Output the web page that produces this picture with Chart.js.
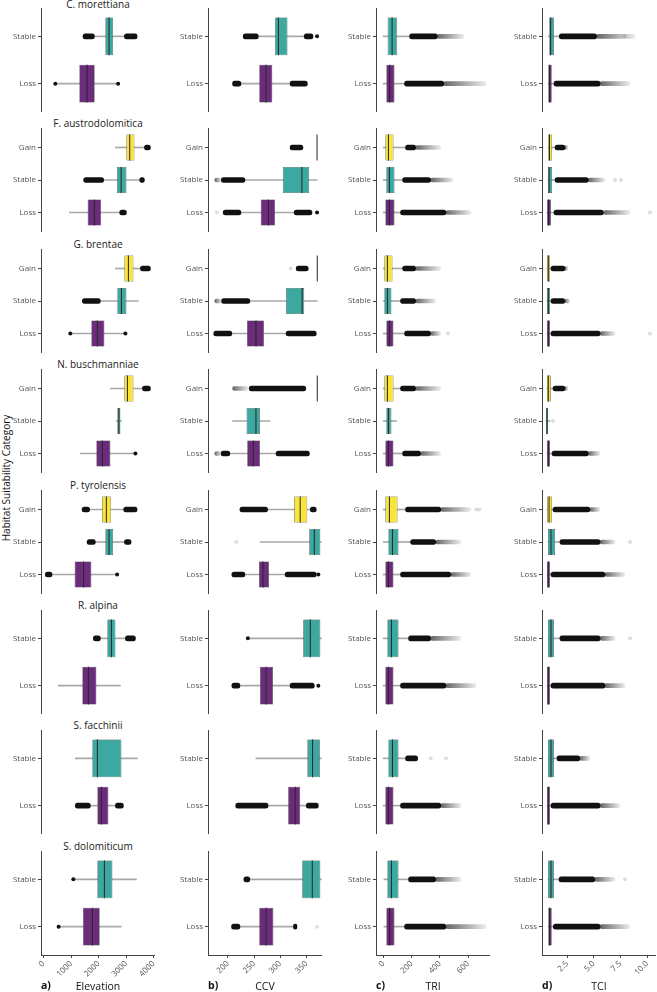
<!DOCTYPE html>
<html>
<head>
<meta charset="utf-8">
<script src="https://cdn.jsdelivr.net/npm/chart.js@4.4.0/dist/chart.umd.min.js"></script>
<style>
  body { margin: 0; background: #fff; font-family: 'Open Sans', sans-serif; }
  #page { position: relative; width: 657px; height: 992px; overflow: hidden; }
  .cell { position: absolute; }
  .title { position: absolute; font-size: 10px; line-height: 9px; color: #1a1a1a; text-align: center; white-space: nowrap; }
  .xlab { position: absolute; font-size: 10.5px; line-height: 12px; color: #111; text-align: center; }
  .letter { position: absolute; font-size: 10.5px; line-height: 12px; font-weight: bold; color: #111; }
  #ytitle { position: absolute; left: -94px; top: 473px; width: 200px; text-align: center; font-size: 10px; line-height: 10px; color: #111; transform: rotate(-90deg); }
</style>
</head>
<body>
<div id="page"><div id="ytitle">Habitat Suitability Category</div></div>
<script>
const species = ['C. morettiana', 'F. austrodolomitica', 'G. brentae', 'N. buschmanniae',
                 'P. tyrolensis', 'R. alpina', 'S. facchinii', 'S. dolomiticum'];
const twoCats = ['Stable', 'Loss'];
const threeCats = ['Gain', 'Stable', 'Loss'];
const speciesCats = [twoCats, threeCats, threeCats, threeCats, threeCats, twoCats, twoCats, twoCats];
const catColors = { Gain: '#f8e43b', Stable: '#3ca89f', Loss: '#6b2d7b' };

// box stats per species, per category: [lower whisker, q1, median, q3, upper whisker]
const elevationBoxes = [
  [[1848, 2248, 2382, 2528, 2939], [503, 1303, 1583, 1859, 2648]],
  [[2612, 3012, 3132, 3302, 3666], [2186, 2673, 2819, 3012, 3495], [939, 1604, 1848, 2092, 2768]],
  [[2612, 2939, 3084, 3266, 3521], [2066, 2684, 2830, 3012, 3448], [1048, 1739, 1957, 2212, 2939]],
  [[2430, 2939, 3048, 3266, 3594], [2648, 2684, 2739, 2793, 2830], [1339, 1921, 2139, 2430, 3303]],
  [[1677, 2128, 2284, 2455, 2913], [1884, 2248, 2382, 2528, 2939], [310, 1132, 1459, 1739, 2612]],
  [[2066, 2321, 2466, 2612, 2975], [539, 1412, 1630, 1921, 2793]],
  [[1157, 1775, 1957, 2830, 3412], [1702, 1957, 2102, 2357, 2612]],
  [[1157, 1957, 2212, 2503, 3375], [586, 1437, 1775, 2041, 2819]]
];
// dense outlier runs: [species, category, from, to]
const elevationBands = [
  [0, 'Stable', 1437, 1848], [0, 'Stable', 2939, 3400],
  [1, 'Gain', 3666, 3884], [1, 'Stable', 1459, 2186], [1, 'Stable', 3495, 3666], [1, 'Loss', 2768, 3012],
  [2, 'Gain', 3521, 3884], [2, 'Stable', 1412, 2066],
  [3, 'Gain', 3594, 3884],
  [4, 'Gain', 1401, 1677], [4, 'Gain', 2913, 3400], [4, 'Stable', 1583, 1884], [4, 'Stable', 2939, 3182], [4, 'Loss', 66, 310],
  [5, 'Stable', 1812, 2066], [5, 'Stable', 2975, 3339],
  [6, 'Loss', 1157, 1702], [6, 'Loss', 2612, 2902]
];
const elevationTails = [];
const elevationDots = [
  [0, 'Loss', 430], [0, 'Loss', 2710], [2, 'Loss', 975], [2, 'Loss', 2975],
  [3, 'Loss', 3339], [4, 'Loss', 2673], [7, 'Stable', 1084], [7, 'Loss', 550]
];
const elevationFaint = [];
const elevationTicks = [0, 1000, 2000, 3000, 4000];

const ccvBoxes = [
  [[258.2, 290.3, 296.6, 313.9, 346], [225, 260, 273, 285, 319]],
  [[370.5, 370.5, 370.5, 370.5, 370.5], [232.6, 305, 341.6, 355.6, 370.5], [225, 262.8, 277.4, 290.3, 326.8]],
  [[371, 371, 371, 371, 371], [242, 311.4, 342, 346, 371], [207.6, 236.4, 253.7, 269, 311.4]],
  [[371, 371, 371, 371, 371], [209, 235.8, 253.7, 261.4, 280.7], [203.7, 237, 248.5, 261.4, 292.2]],
  [[276, 326.8, 338.3, 351.8, 357.6], [261.5, 355.6, 365.3, 376.8, 378.7], [232.6, 259.5, 267.2, 278.7, 309.5]],
  [[242, 344, 357.6, 376.8, 378.7], [223, 261.4, 273, 286.4, 319]],
  [[253.7, 352, 362, 376, 378.7], [276.8, 315.3, 328.7, 338.3, 349.9]],
  [[242, 342.2, 361.4, 376.8, 378.7], [223, 260, 273, 287, 325.5]]
];
const ccvBands = [
  [0, 'Stable', 229.3, 258.2], [0, 'Stable', 346, 362.8], [0, 'Loss', 209, 225], [0, 'Loss', 319, 352],
  [1, 'Gain', 319, 343.5], [1, 'Stable', 187.5, 232.6], [1, 'Loss', 191, 225], [1, 'Loss', 326.8, 360.9],
  [2, 'Gain', 330.6, 353.7], [2, 'Stable', 188, 242], [2, 'Loss', 173, 207.6], [2, 'Loss', 311.4, 369],
  [3, 'Gain', 240.8, 349], [3, 'Loss', 187, 203.7], [3, 'Loss', 292.2, 356],
  [4, 'Gain', 223, 276], [4, 'Gain', 357.6, 369], [4, 'Loss', 207.6, 232.6], [4, 'Loss', 309.5, 369],
  [5, 'Loss', 207.6, 223], [5, 'Loss', 319, 365.3],
  [6, 'Loss', 215, 276.8], [6, 'Loss', 350, 373],
  [7, 'Stable', 230.6, 242], [7, 'Loss', 207, 223], [7, 'Loss', 325.5, 332]
];
const ccvTails = [
  [1, 'Stable', 175, 187.5], [2, 'Stable', 175, 188], [3, 'Gain', 209, 239], [3, 'Loss', 175, 187]
];
const ccvDots = [
  [0, 'Stable', 370.5], [1, 'Loss', 370.5], [4, 'Loss', 373], [5, 'Stable', 238.3], [5, 'Loss', 373]
];
const ccvFaint = [[1, 'Loss', 179], [2, 'Gain', 320], [4, 'Stable', 216], [7, 'Loss', 370.5]];
const ccvTicks = [200, 250, 300, 350];

const triBoxes = [
  [[0, 30.8, 62, 98, 185.8], [0, 21.5, 45, 78.7, 150]],
  [[0, 14.4, 36, 71.5, 157], [0, 21.5, 43, 78.7, 136], [0, 14.4, 43, 78.7, 121.5]],
  [[0, 7.3, 28.7, 64.4, 136], [0, 7.3, 28.7, 57, 121.5], [0, 21.5, 43, 71.5, 150]],
  [[0, 7.3, 28.7, 71.5, 121.5], [0, 21.5, 36, 57, 93], [0, 14.4, 36, 71.5, 136]],
  [[0, 14.4, 43, 100, 157], [0, 36, 64.4, 107, 193], [0, 14.4, 36, 71.5, 121.5]],
  [[0, 28.7, 57, 107, 178.6], [0, 14.4, 36, 71.5, 121.5]],
  [[0, 36, 64.4, 107, 157], [0, 14.4, 36, 71.5, 121.5]],
  [[0, 28.7, 57, 107, 178.6], [0, 21.5, 45, 78.7, 150]]
];
const triBands = [
  [0, 'Stable', 186, 383], [0, 'Loss', 150, 428],
  [1, 'Gain', 157, 229], [1, 'Stable', 136, 335], [1, 'Loss', 121.5, 443],
  [2, 'Gain', 136, 229], [2, 'Stable', 121.5, 229], [2, 'Loss', 150, 335],
  [3, 'Gain', 121.5, 229], [3, 'Loss', 136, 264],
  [4, 'Gain', 157, 407], [4, 'Stable', 193, 371], [4, 'Loss', 121.5, 478],
  [5, 'Stable', 178.6, 335], [5, 'Loss', 121.5, 443],
  [6, 'Stable', 157, 243], [6, 'Loss', 121.5, 407],
  [7, 'Stable', 178.6, 371], [7, 'Loss', 150, 443]
];
const triTails = [
  [0, 'Stable', 383, 571], [0, 'Loss', 428, 728],
  [1, 'Gain', 229, 407], [1, 'Stable', 335, 493], [1, 'Loss', 443, 621],
  [2, 'Gain', 229, 407], [2, 'Stable', 229, 371], [2, 'Loss', 335, 407],
  [3, 'Gain', 229, 407], [3, 'Loss', 264, 407],
  [4, 'Gain', 407, 621], [4, 'Stable', 371, 550], [4, 'Loss', 478, 621],
  [5, 'Stable', 335, 550], [5, 'Loss', 443, 657],
  [6, 'Loss', 407, 550],
  [7, 'Stable', 371, 550], [7, 'Loss', 443, 728]
];
const triDots = [];
const triFaint = [[2, 'Loss', 457], [4, 'Gain', 657], [4, 'Gain', 680], [6, 'Stable', 335], [6, 'Stable', 443]];
const triTicks = [0, 200, 400, 600];

const tciBoxes = [
  [[0.75, 0.84, 0.97, 1.28, 1.78], [0.75, 0.75, 0.86, 1.07, 1.28]],
  [[0.72, 0.72, 0.86, 1.1, 1.38], [0.72, 0.72, 0.82, 1.1, 1.38], [0.63, 0.63, 0.77, 1.0, 1.28]],
  [[0.63, 0.63, 0.75, 0.91, 1.0], [0.63, 0.63, 0.75, 0.91, 1.0], [0.63, 0.63, 0.75, 0.91, 1.0]],
  [[0.63, 0.63, 0.75, 1.0, 1.19], [0.53, 0.53, 0.63, 0.72, 0.91], [0.63, 0.63, 0.75, 0.91, 1.1]],
  [[0.63, 0.63, 0.82, 1.1, 1.19], [0.72, 0.72, 1.0, 1.38, 1.84], [0.63, 0.63, 0.75, 0.91, 1.0]],
  [[0.72, 0.72, 1.0, 1.28, 1.84], [0.63, 0.63, 0.75, 0.91, 1.0]],
  [[0.72, 0.72, 1.0, 1.28, 1.56], [0.63, 0.63, 0.75, 0.91, 1.0]],
  [[0.72, 0.72, 1.0, 1.28, 1.75], [0.75, 0.75, 0.86, 1.07, 1.22]]
];
const tciBands = [
  [0, 'Stable', 1.78, 5.28], [0, 'Loss', 1.28, 5.6],
  [1, 'Gain', 1.38, 2.31], [1, 'Stable', 1.38, 4.5], [1, 'Loss', 1.28, 5.9],
  [2, 'Gain', 1.0, 2.31], [2, 'Stable', 1.0, 2.3], [2, 'Loss', 1.0, 5.6],
  [3, 'Gain', 1.19, 2.31], [3, 'Loss', 1.1, 4.5],
  [4, 'Gain', 1.19, 4.65], [4, 'Stable', 1.84, 5.6], [4, 'Loss', 1.0, 6.06],
  [5, 'Stable', 1.84, 5.6], [5, 'Loss', 1.0, 6.06],
  [6, 'Stable', 1.56, 3.7], [6, 'Loss', 1.0, 5.6],
  [7, 'Stable', 1.75, 5.1], [7, 'Loss', 1.22, 5.6]
];
const tciTails = [
  [0, 'Stable', 5.28, 8.86], [0, 'Loss', 5.6, 8.4],
  [1, 'Gain', 2.31, 2.59], [1, 'Stable', 4.5, 6.06], [1, 'Loss', 5.9, 8.4],
  [2, 'Gain', 2.31, 2.59], [2, 'Stable', 2.3, 2.78], [2, 'Loss', 5.6, 7.0],
  [3, 'Gain', 2.31, 2.59], [3, 'Loss', 4.5, 5.6],
  [4, 'Gain', 4.65, 5.6], [4, 'Stable', 5.6, 7.0], [4, 'Loss', 6.06, 7.93],
  [5, 'Stable', 5.6, 7.0], [5, 'Loss', 6.06, 7.93],
  [6, 'Stable', 3.7, 4.65], [6, 'Loss', 5.6, 7.46],
  [7, 'Stable', 5.1, 7.0], [7, 'Loss', 5.6, 8.4]
];
const tciDots = [];
const tciFaint = [
  [0, 'Stable', 7.9], [1, 'Stable', 7.0], [1, 'Stable', 7.55], [1, 'Loss', 10.27],
  [2, 'Loss', 10.27], [3, 'Stable', 1.19], [4, 'Stable', 8.4], [5, 'Stable', 8.4], [7, 'Stable', 7.93]
];
const tciTicks = [2.5, 5.0, 7.5, 10.0];

const columns = [
  { letter: 'a)', name: 'Elevation', boxes: elevationBoxes, bands: elevationBands, tails: elevationTails,
    dots: elevationDots, faint: elevationFaint, ticks: elevationTicks, min: -90, max: 4050, fmt: v => String(v) },
  { letter: 'b)', name: 'CCV', boxes: ccvBoxes, bands: ccvBands, tails: ccvTails,
    dots: ccvDots, faint: ccvFaint, ticks: ccvTicks, min: 162, max: 380, fmt: v => String(v) },
  { letter: 'c)', name: 'TRI', boxes: triBoxes, bands: triBands, tails: triTails,
    dots: triDots, faint: triFaint, ticks: triTicks, min: -52, max: 755, fmt: v => String(v) },
  { letter: 'd)', name: 'TCI', boxes: tciBoxes, bands: tciBands, tails: tciTails,
    dots: tciDots, faint: tciFaint, ticks: tciTicks, min: 0.16, max: 10.83, fmt: v => v.toFixed(1) }
];

// layout
const colLeft = [1, 168, 336, 502];
const yAxisWidth = 40;
const plotWidth = 114;
const plotHeight = 104;
const xAxisHeight = 30;
const rowTop = i => Math.round(8 + 120.4 * i);
const tickFont = { family: "'Open Sans', sans-serif", size: 8 };
const tickColor = '#555';
const page = document.getElementById('page');

function unitPx(chart) {
  const y = chart.scales.y;
  return Math.abs(y.getPixelForValue(1) - y.getPixelForValue(0));
}

function tailFill(c) {
  const x = c.chart.scales.x;
  const fallback = 'rgba(0,0,0,0.25)';
  if (c.type !== 'data' || !c.raw || !x) return fallback;
  const x0 = x.getPixelForValue(c.raw.x[0]);
  const x1 = x.getPixelForValue(c.raw.x[1]);
  if (!isFinite(x0) || !isFinite(x1) || x0 === x1) return fallback;
  const g = c.chart.ctx.createLinearGradient(x0, 0, x1, 0);
  g.addColorStop(0, 'rgba(0,0,0,0.6)');
  g.addColorStop(1, 'rgba(0,0,0,0.07)');
  return g;
}

function makeChart(col, ci, sp) {
  const bottom = sp === species.length - 1;
  const cats = speciesCats[sp];
  const boxes = col.boxes[sp];
  const w = yAxisWidth + plotWidth;
  const h = plotHeight + (bottom ? xAxisHeight : 0);

  const holder = document.createElement('div');
  holder.className = 'cell';
  holder.style.left = colLeft[ci] + 'px';
  holder.style.top = rowTop(sp) + 'px';
  const canvas = document.createElement('canvas');
  canvas.width = w;
  canvas.height = h;
  canvas.style.width = w + 'px';
  canvas.style.height = h + 'px';
  holder.appendChild(canvas);
  page.appendChild(holder);

  const ranges = list => list.filter(r => r[0] === sp).map(r => ({ x: [r[2], r[3]], y: cats.indexOf(r[1]) }));
  const points = list => list.filter(r => r[0] === sp).map(r => ({ x: r[2], y: cats.indexOf(r[1]) }));

  const datasets = [
    { type: 'bar', data: boxes.map((b, i) => ({ x: [b[0], b[4]], y: i })),
      backgroundColor: '#a8a8a8', barThickness: 1, grouped: false, order: 6 },
    { type: 'bar', data: ranges(col.tails), backgroundColor: tailFill,
      barThickness: 4, borderRadius: 2, borderSkipped: false, grouped: false, order: 5 },
    { type: 'bar', data: ranges(col.bands), backgroundColor: '#111',
      barThickness: 5, borderRadius: 2.5, borderSkipped: false, grouped: false, order: 4 },
    { type: 'bar', data: boxes.map((b, i) => ({ x: [b[1], b[3]], y: i })),
      backgroundColor: cats.map(c => catColors[c]), borderColor: '#3a3a3a', borderWidth: 0.6,
      borderSkipped: false, categoryPercentage: 0.8, barPercentage: 1, grouped: false, order: 3 },
    { type: 'scatter', data: points(col.faint), pointRadius: 2, pointBorderWidth: 0,
      pointBackgroundColor: 'rgba(0,0,0,0.13)', order: 2 },
    { type: 'scatter', data: points(col.dots), pointRadius: 2, pointBorderWidth: 0,
      pointBackgroundColor: '#111', order: 2 },
    { type: 'scatter', data: boxes.map((b, i) => ({ x: b[2], y: i })),
      pointStyle: 'line', pointRotation: 90, pointRadius: c => unitPx(c.chart) * 0.4,
      pointBorderColor: '#262626', pointBorderWidth: 1, order: 1 }
  ];

  new Chart(canvas, {
    type: 'bar',
    data: { datasets },
    options: {
      animation: false,
      responsive: false,
      devicePixelRatio: 1,
      events: [],
      indexAxis: 'y',
      layout: { padding: 0, autoPadding: false },
      plugins: { legend: { display: false }, tooltip: { enabled: false } },
      scales: {
        x: {
          type: 'linear',
          min: col.min,
          max: col.max,
          offset: false,
          display: bottom,
          afterBuildTicks: s => { s.ticks = col.ticks.map(v => ({ value: v })); },
          afterFit: s => {
            s.height = bottom ? xAxisHeight : 0;
            s.paddingLeft = 0;
            s.paddingRight = 0;
          },
          ticks: { callback: v => col.fmt(v), minRotation: 45, maxRotation: 45, autoSkip: false,
                   font: tickFont, color: tickColor, padding: 1 },
          grid: { drawOnChartArea: false, offset: false, tickLength: 3, color: '#444' },
          border: { display: true, color: '#444', width: 1 }
        },
        y: {
          type: 'linear',
          reverse: true,
          offset: false,
          min: -0.6,
          max: cats.length - 0.4,
          afterBuildTicks: s => { s.ticks = cats.map((c, i) => ({ value: i })); },
          afterFit: s => { s.width = yAxisWidth; s.paddingTop = 0; s.paddingBottom = 0; },
          ticks: { callback: v => cats[v], font: tickFont, color: tickColor, padding: 2 },
          grid: { drawOnChartArea: false, offset: false, tickLength: 3, color: '#444' },
          border: { display: true, color: '#444', width: 1 }
        }
      }
    }
  });
}

species.forEach((name, sp) => {
  const t = document.createElement('div');
  t.className = 'title';
  t.textContent = name;
  t.style.left = (colLeft[0] + yAxisWidth) + 'px';
  t.style.width = plotWidth + 'px';
  t.style.top = Math.max(0, rowTop(sp) - 9) + 'px';
  page.appendChild(t);
  columns.forEach((col, ci) => makeChart(col, ci, sp));
});

columns.forEach((col, ci) => {
  const l = document.createElement('div');
  l.className = 'letter';
  l.textContent = col.letter;
  l.style.left = (colLeft[ci] + yAxisWidth) + 'px';
  l.style.top = '979px';
  page.appendChild(l);
  const t = document.createElement('div');
  t.className = 'xlab';
  t.textContent = col.name;
  t.style.left = (colLeft[ci] + yAxisWidth) + 'px';
  t.style.width = plotWidth + 'px';
  t.style.top = '980px';
  page.appendChild(t);
});
</script>
</body>
</html>
